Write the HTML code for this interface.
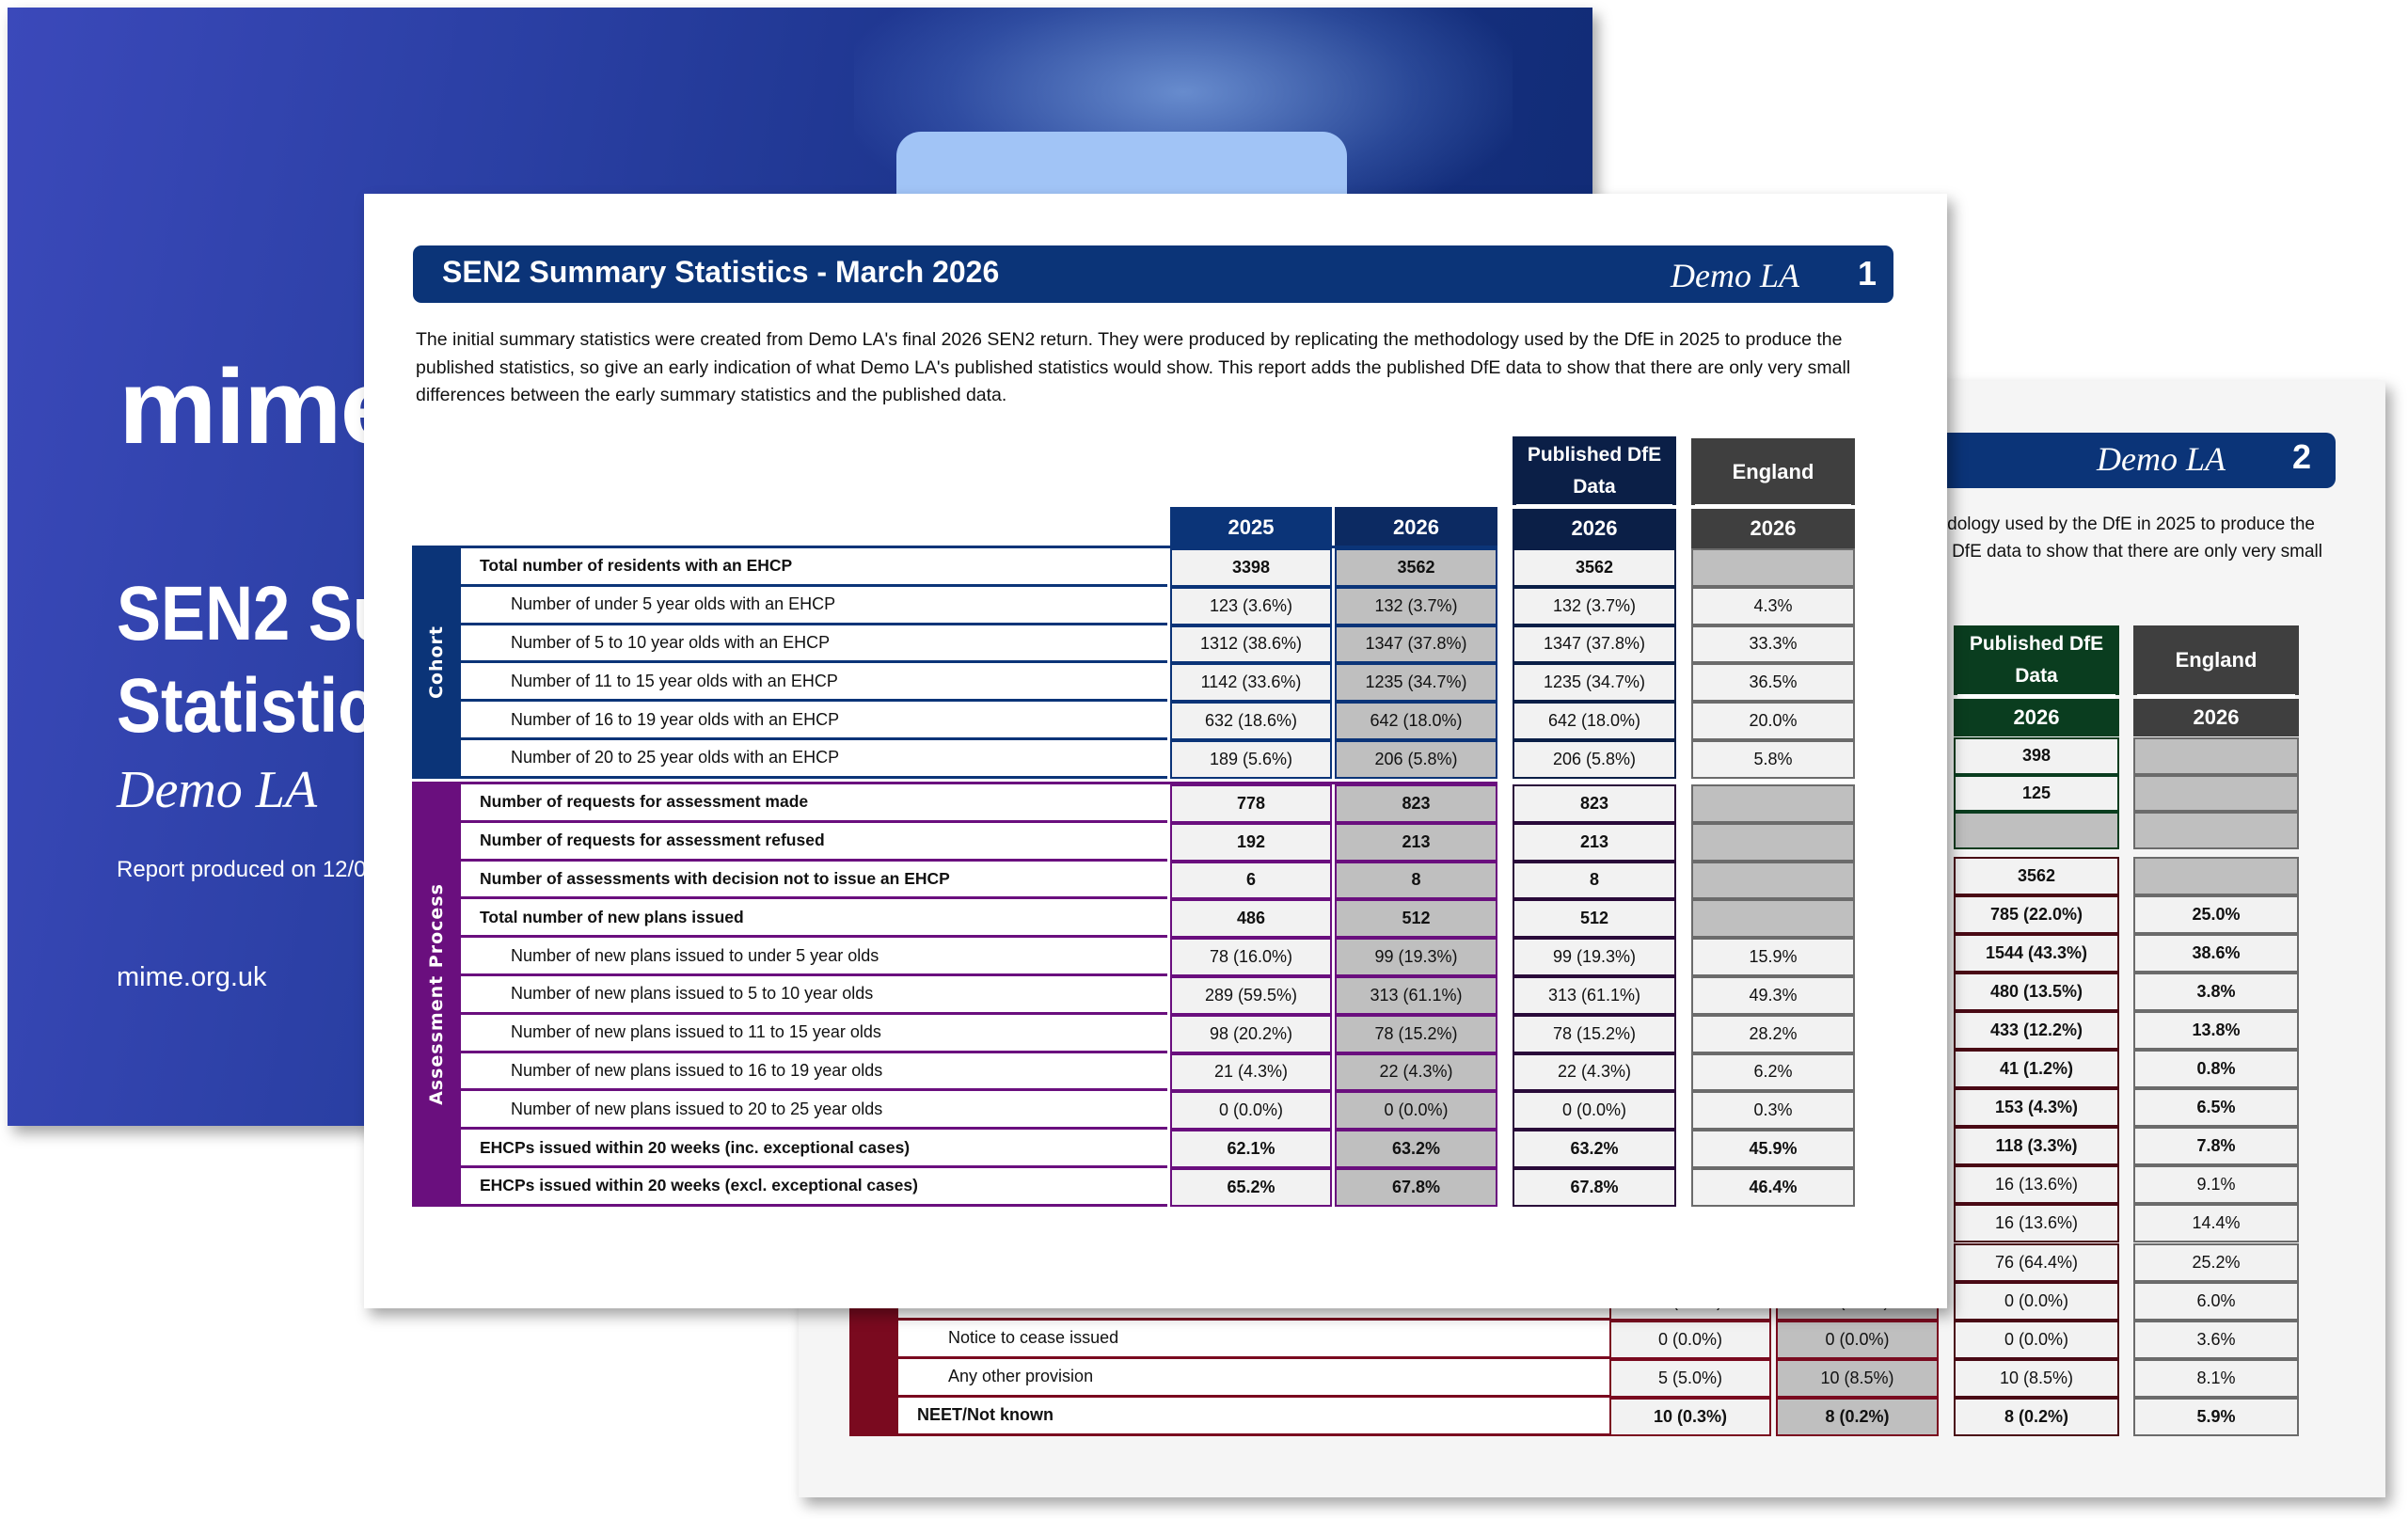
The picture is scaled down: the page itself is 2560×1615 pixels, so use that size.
<!DOCTYPE html>
<html><head><meta charset="utf-8">
<style>
*{margin:0;padding:0;box-sizing:border-box}
body{width:2560px;height:1615px;position:relative;overflow:hidden;background:#fff;font-family:"Liberation Sans",Arial,sans-serif}
.abs{position:absolute}
.cell{position:absolute;display:flex;align-items:center;justify-content:center;font-size:18px;color:#111;white-space:nowrap}
.lbl{position:absolute;display:flex;align-items:center;font-size:18px;color:#111;white-space:nowrap;background:#fff}
.hdr{position:absolute;display:flex;align-items:center;justify-content:center;color:#fff;font-weight:bold;font-size:22px;text-align:center;line-height:30px}
.band{position:absolute;display:flex;align-items:center;justify-content:center}
.band span{transform:rotate(-90deg);color:#fff;font-family:"DejaVu Sans",sans-serif;font-weight:bold;font-size:19px;white-space:nowrap;letter-spacing:1px}
</style></head>
<body>
<!-- cover page -->
<div class="abs" style="left:8px;top:8px;width:1685px;height:1189px;background:linear-gradient(100deg,#3b49ba 0%,#2a3fa3 30%,#1a3388 60%,#0f2a72 100%);box-shadow:6px 8px 14px rgba(0,0,0,0.35);overflow:hidden">
  <div class="abs" style="left:900px;top:-60px;width:700px;height:300px;background:radial-gradient(ellipse at center,rgba(130,170,230,0.75),rgba(90,130,210,0.3) 50%,rgba(0,0,0,0) 75%)"></div>
  <div class="abs" style="left:945px;top:132px;width:479px;height:80px;background:#a1c4f6;border-radius:26px 26px 0 0"></div>
  <div class="abs" style="left:118px;top:369px;font-size:112px;font-weight:bold;color:#fff;letter-spacing:-2px;line-height:112px;transform:scaleX(1.05);transform-origin:left">mime</div>
  <div class="abs" style="left:116px;top:596px;font-size:82px;font-weight:bold;color:#fff;line-height:98px;transform:scaleX(0.86);transform-origin:left">SEN2 Summary<br>Statistics</div>
  <div class="abs" style="left:116px;top:800px;font-family:'Liberation Serif',serif;font-style:italic;font-size:56px;color:#fff">Demo LA</div>
  <div class="abs" style="left:116px;top:903px;font-size:24px;color:#fff">Report produced on 12/03/2026</div>
  <div class="abs" style="left:116px;top:1015px;font-size:29px;color:#fff">mime.org.uk</div>
</div>

<!-- back page 2 -->
<div class="abs" id="p2" style="left:849px;top:405px;width:1687px;height:1187px;background:#f5f5f5;box-shadow:6px 8px 14px rgba(0,0,0,0.35);overflow:hidden">
  <div class="abs" style="left:-400px;top:55px;width:2034px;height:59px;background:#0b3478;border-radius:10px"></div>
  <div class="abs" style="left:1380px;top:62px;font-family:'Liberation Serif',serif;font-style:italic;font-size:36px;color:#fff">Demo LA</div>
  <div class="abs" style="left:1588px;top:60px;font-weight:bold;font-size:36px;color:#fff">2</div>
  <div class="abs" style="right:75px;top:142px;font-size:19px;color:#111;white-space:nowrap">The initial summary statistics were created from Demo LA's final 2026 SEN2 return. They were produced by replicating the methodology used by the DfE in 2025 to produce the</div>
  <div class="abs" style="right:67px;top:171px;font-size:19px;color:#111;white-space:nowrap">published statistics, so give an early indication of what Demo LA's published statistics would show. This report adds the published DfE data to show that there are only very small</div>
</div>

<!-- front page 1 -->
<div class="abs" id="p1" style="left:387px;top:206px;width:1683px;height:1185px;background:#fff;box-shadow:6px 8px 14px rgba(0,0,0,0.35)">
  <div class="abs" style="left:52px;top:55px;width:1574px;height:61px;background:#0b3478;border-radius:9px"></div>
  <div class="abs" style="left:83px;top:65px;font-size:32px;font-weight:bold;color:#fff">SEN2 Summary Statistics - March 2026</div>
  <div class="abs" style="left:1389px;top:66px;font-family:'Liberation Serif',serif;font-style:italic;font-size:36px;color:#fff">Demo LA</div>
  <div class="abs" style="left:1588px;top:64px;font-weight:bold;font-size:36px;color:#fff">1</div>
  <div class="abs" style="left:55px;top:141px;font-size:19.5px;line-height:29.5px;color:#111;white-space:nowrap">The initial summary statistics were created from Demo LA's final 2026 SEN2 return. They were produced by replicating the methodology used by the DfE in 2025 to produce the<br>published statistics, so give an early indication of what Demo LA's published statistics would show. This report adds the published DfE data to show that there are only very small<br>differences between the early summary statistics and the published data.</div>
</div>

<script>
// ---- front page data ----
const cohortLabels=["Total number of residents with an EHCP","Number of under 5 year olds with an EHCP","Number of 5 to 10 year olds with an EHCP","Number of 11 to 15 year olds with an EHCP","Number of 16 to 19 year olds with an EHCP","Number of 20 to 25 year olds with an EHCP"];
const cohortBold=[1,0,0,0,0,0];
const cohort2025=["3398","123 (3.6%)","1312 (38.6%)","1142 (33.6%)","632 (18.6%)","189 (5.6%)"];
const cohort2026=["3562","132 (3.7%)","1347 (37.8%)","1235 (34.7%)","642 (18.0%)","206 (5.8%)"];
const cohortPub=["3562","132 (3.7%)","1347 (37.8%)","1235 (34.7%)","642 (18.0%)","206 (5.8%)"];
const cohortEng=["","4.3%","33.3%","36.5%","20.0%","5.8%"];
const assessLabels=["Number of requests for assessment made","Number of requests for assessment refused","Number of assessments with decision not to issue an EHCP","Total number of new plans issued","Number of new plans issued to under 5 year olds","Number of new plans issued to 5 to 10 year olds","Number of new plans issued to 11 to 15 year olds","Number of new plans issued to 16 to 19 year olds","Number of new plans issued to 20 to 25 year olds","EHCPs issued within 20 weeks (inc. exceptional cases)","EHCPs issued within 20 weeks (excl. exceptional cases)"];
const assessBold=[1,1,1,1,0,0,0,0,0,1,1];
const assess2025=["778","192","6","486","78 (16.0%)","289 (59.5%)","98 (20.2%)","21 (4.3%)","0 (0.0%)","62.1%","65.2%"];
const assess2026=["823","213","8","512","99 (19.3%)","313 (61.1%)","78 (15.2%)","22 (4.3%)","0 (0.0%)","63.2%","67.8%"];
const assessPub=["823","213","8","512","99 (19.3%)","313 (61.1%)","78 (15.2%)","22 (4.3%)","0 (0.0%)","63.2%","67.8%"];
const assessEng=["","","","","15.9%","49.3%","28.2%","6.2%","0.3%","45.9%","46.4%"];
// ---- back page data ----
const p2Pub=["398","125",""];
const p2Bold=[1,1,0];
const p2Labels=["","","","","","","","","","","","Moving into employment","Notice to cease issued","Any other provision","NEET/Not known"];
const p2LabelBold=[0,0,0,0,0,0,0,0,0,0,0,0,0,0,1];
const p2c2025=["","","","","","","","","","","","0 (0.0%)","0 (0.0%)","5 (5.0%)","10 (0.3%)"];
const p2c2026=["","","","","","","","","","","","0 (0.0%)","0 (0.0%)","10 (8.5%)","8 (0.2%)"];
const p2Pub2=["3562","785 (22.0%)","1544 (43.3%)","480 (13.5%)","433 (12.2%)","41 (1.2%)","153 (4.3%)","118 (3.3%)","16 (13.6%)","16 (13.6%)","76 (64.4%)","0 (0.0%)","0 (0.0%)","10 (8.5%)","8 (0.2%)"];
const p2Eng2=["","25.0%","38.6%","3.8%","13.8%","0.8%","6.5%","7.8%","9.1%","14.4%","25.2%","6.0%","3.6%","8.1%","5.9%"];
const p2Bold2=[1,1,1,1,1,1,1,1,0,0,0,0,0,0,1];

function mk(parent,cls,x,y,w,h,css,text){
  const d=document.createElement('div');d.className=cls;
  d.style.left=x+'px';d.style.top=y+'px';d.style.width=w+'px';d.style.height=h+'px';
  if(css)d.style.cssText+=css; if(text!==undefined)d.textContent=text;
  parent.appendChild(d);return d;
}
const P1=document.getElementById('p1'), P2=document.getElementById('p2');
const OX=387, OY=206, RH=40.8;
const C={band:[438,490],lab:[490,1241],c25:[1244,1416],c26:[1419,1592],pub:[1608,1782],eng:[1798,1972]};
function X(k){return C[k][0]-OX} function W(k){return C[k][1]-C[k][0]}
let h;
h=mk(P1,'hdr',X('c25'),539-OY,W('c25'),44,'background:#0b3478','2025');

h=mk(P1,'hdr',X('c26'),539-OY,W('c26'),44,'background:#0c2a62','2026');

mk(P1,'abs',X('c25')+W('c25'),539-OY,3,44,'background:#fff');
h=mk(P1,'hdr',X('pub'),464-OY,W('pub'),73,'background:#0b1f47;font-size:21px;line-height:34px','');
h.innerHTML='Published DfE<br>Data';

mk(P1,'abs',X('pub')+4,536-OY,W('pub')-8,5,'background:#fff');
h=mk(P1,'hdr',X('pub'),541-OY,W('pub'),42,'background:#0b1f47','2026');

h=mk(P1,'hdr',X('eng'),466-OY,W('eng'),71,'background:#3f3f3f','England');

mk(P1,'abs',X('eng')+4,536-OY,W('eng')-8,5,'background:#fff');
h=mk(P1,'hdr',X('eng'),541-OY,W('eng'),42,'background:#3f3f3f','2026');


function section(parent,ox,oy,top,labels,bold,v25,v26,vpub,veng,color,pubBorder,bandText,name){
  const n=labels.length;
  const b=mk(parent,'band',C.band[0]-ox,top-oy-3,W('band'),n*RH+3,'background:'+color);
  b.innerHTML='<span>'+bandText+'</span>';
  
  mk(parent,'abs',C.lab[0]-ox,top-oy-3,C.c26[1]-C.lab[0],3,'background:'+color);
  for(let i=0;i<n;i++){
    const y=top-oy+i*RH;
    const l=mk(parent,'lbl',C.lab[0]-ox,y,W('lab'),RH-3,'padding-left:'+(bold[i]?20:53)+'px;font-weight:'+(bold[i]?'bold':'normal')+';font-size:'+(bold[i]?'17.5px':'18px'),labels[i]);
    
    mk(parent,'abs',C.lab[0]-ox,y+RH-3,W('lab'),3,'background:'+color);
    const fw=bold[i]?'bold':'normal';
    const cols=[['c25',v25[i],'#f2f2f2',color],['c26',v26[i],'#bfbfbf',color],['pub',vpub[i],'#f2f2f2',pubBorder],['eng',veng[i],veng[i]===''?'#bfbfbf':'#f2f2f2','#6b6b6b']];
    cols.forEach(c=>{
      const d=mk(parent,'cell',C[c[0]][0]-ox,y,W(c[0]),RH,'background:'+c[2]+';border:2px solid '+c[3]+';font-weight:'+fw,c[1]);
      
      
    });
  }
}
section(P1,OX,OY,583,cohortLabels,cohortBold,cohort2025,cohort2026,cohortPub,cohortEng,'#0b3478','#0b1f47','Cohort','cohort');
section(P1,OX,OY,834,assessLabels,assessBold,assess2025,assess2026,assessPub,assessEng,'#6a0f7e','#2a0b3a','Assessment Process','assessment');

// ---- back page ----
const QX=849,QY=405;
const D={pub:[2077,2253],eng:[2268,2444],band:[903,955],lab:[955,1711],c25:[1711,1883],c26:[1888,2061]};
function DX(k){return D[k][0]-QX} function DW(k){return D[k][1]-D[k][0]}
h=mk(P2,'hdr',DX('pub'),665-QY,DW('pub'),74,'background:#0a3d1f;font-size:21px;line-height:34px','');
h.innerHTML='Published DfE<br>Data';

mk(P2,'abs',DX('pub')+4,738-QY,DW('pub')-8,5,'background:#fff');
h=mk(P2,'hdr',DX('pub'),743-QY,DW('pub'),40,'background:#0a3d1f','2026');

h=mk(P2,'hdr',DX('eng'),665-QY,DW('eng'),74,'background:#3f3f3f','England');

mk(P2,'abs',DX('eng')+4,738-QY,DW('eng')-8,5,'background:#fff');
h=mk(P2,'hdr',DX('eng'),743-QY,DW('eng'),40,'background:#3f3f3f','2026');

const RH2=39.7;
for(let i=0;i<p2Pub.length;i++){
  const y=784-QY+i*RH2;
  let d=mk(P2,'cell',DX('pub'),y,DW('pub'),RH2,'background:'+(p2Pub[i]===''?'#bfbfbf':'#f2f2f2')+';border:2px solid #0a3d1f;font-weight:'+(p2Bold[i]?'bold':'normal'),p2Pub[i]);
  
  
  d=mk(P2,'cell',DX('eng'),y,DW('eng'),RH2,'background:#bfbfbf;border:2px solid #6b6b6b','');
  
  
}
const RH3=41.05, T3=911, MAR='#7a0a1f';
const bb=mk(P2,'band',DX('band'),T3-QY,DW('band'),p2Pub2.length*RH3,'background:'+MAR);


for(let i=0;i<p2Pub2.length;i++){
  const y=T3-QY+i*RH3;
  const fw=p2Bold2[i]?'bold':'normal';
  let l=mk(P2,'lbl',DX('lab'),y,DW('lab'),RH3-3,'padding-left:'+(p2LabelBold[i]?20:53)+'px;font-weight:'+(p2LabelBold[i]?'bold':'normal'),p2Labels[i]);
  
  
  mk(P2,'abs',DX('lab'),y+RH3-3,DW('lab'),3,'background:'+MAR);
  let d=mk(P2,'cell',DX('c25'),y,DW('c25'),RH3,'background:#f2f2f2;border:2px solid '+MAR+';font-weight:'+(p2LabelBold[i]?'bold':'normal'),p2c2025[i]);
  
  
  d=mk(P2,'cell',DX('c26'),y,DW('c26'),RH3,'background:#bfbfbf;border:2px solid '+MAR+';font-weight:'+(p2LabelBold[i]?'bold':'normal'),p2c2026[i]);
  
  
  d=mk(P2,'cell',DX('pub'),y,DW('pub'),RH3,'background:#f2f2f2;border:2px solid #4a0a15;font-weight:'+fw,p2Pub2[i]);
  
  
  d=mk(P2,'cell',DX('eng'),y,DW('eng'),RH3,'background:'+(p2Eng2[i]===''?'#bfbfbf':'#f2f2f2')+';border:2px solid #6b6b6b;font-weight:'+fw,p2Eng2[i]);
  
  
}
</script>
</body></html>
